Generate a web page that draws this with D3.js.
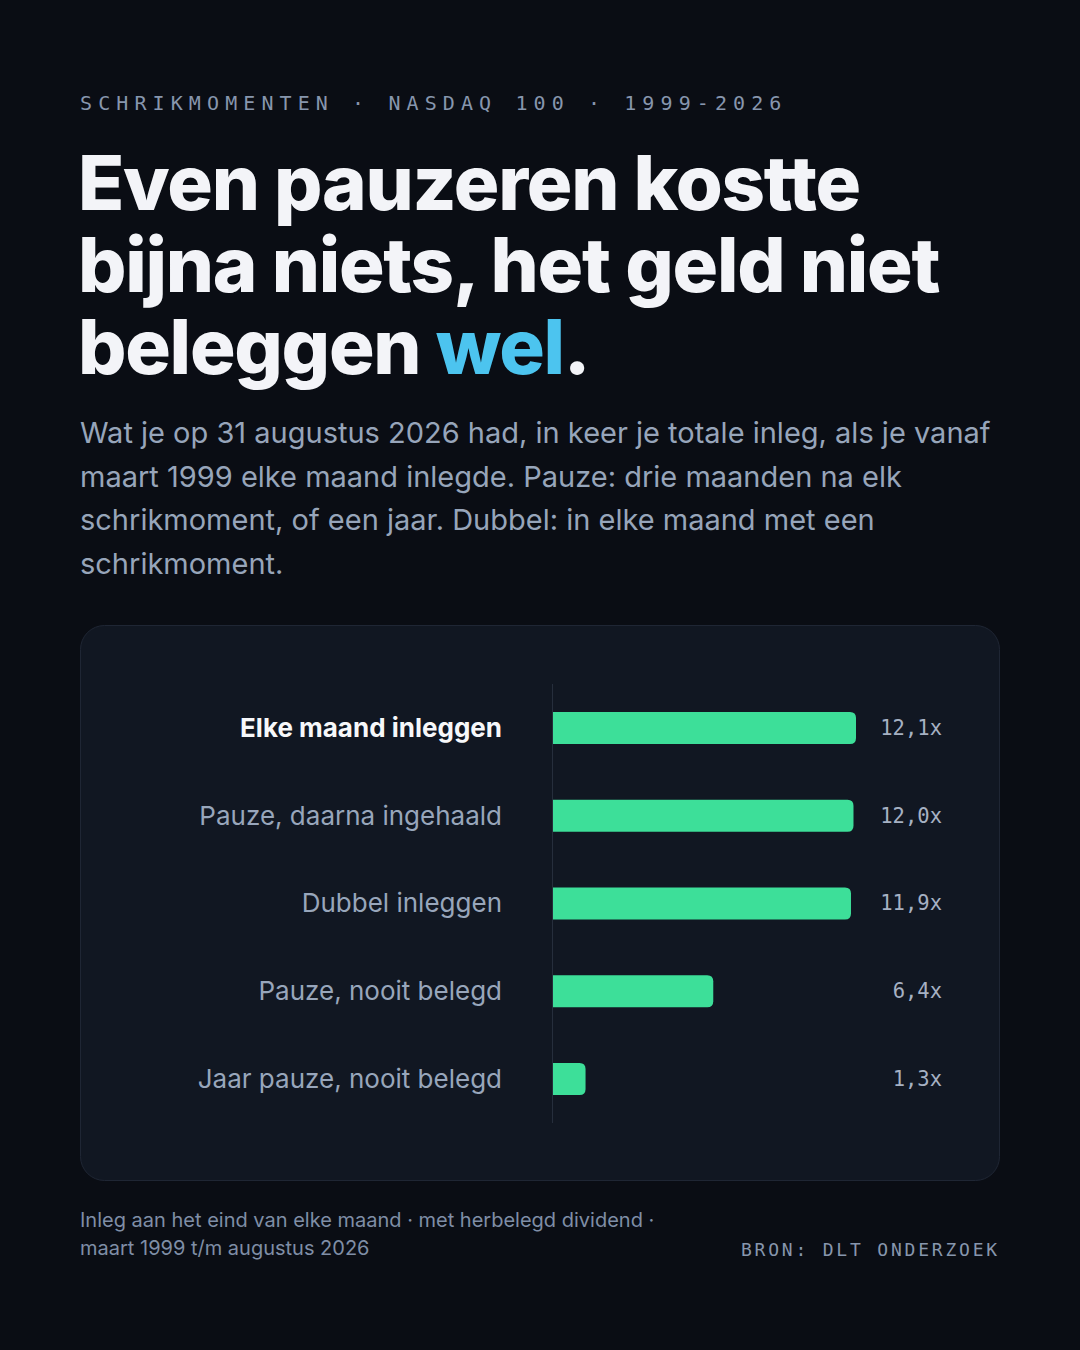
<!DOCTYPE html>
<html>
<head>
<meta charset="utf-8">
<script src="https://cdn.jsdelivr.net/npm/d3@7"></script>
<style>
	html, body { margin: 0; padding: 0; background: #0a0d14; }
	svg { display: block; }
</style>
</head>
<body>
<div id="chart"></div>
<script>
// Data
const categories = [
	"Elke maand inleggen",
	"Pauze, daarna ingehaald",
	"Dubbel inleggen",
	"Pauze, nooit belegd",
	"Jaar pauze, nooit belegd"
];
const multiples = [12.1, 12.0, 11.9, 6.4, 1.3];
const eyebrow = "SCHRIKMOMENTEN · NASDAQ 100 · 1999-2026";
const titleLines = ["Even pauzeren kostte", "bijna niets, het geld niet", "beleggen "];
const subtitleLines = [
	"Wat je op 31 augustus 2026 had, in keer je totale inleg, als je vanaf",
	"maart 1999 elke maand inlegde. Pauze: drie maanden na elk",
	"schrikmoment, of een jaar. Dubbel: in elke maand met een",
	"schrikmoment."
];
const footLines = [
	"Inleg aan het eind van elke maand · met herbelegd dividend ·",
	"maart 1999 t/m augustus 2026"
];
const source = "BRON: DLT ONDERZOEK";

const W = 1080, H = 1350;
const sans = "Inter, 'Noto Sans', sans-serif";
const mono = "'DejaVu Sans Mono', 'Liberation Mono', monospace";

const svg = d3.select("#chart").append("svg")
	.attr("width", W)
	.attr("height", H);

svg.append("rect").attr("width", W).attr("height", H).attr("fill", "#0a0d14");

// Header
svg.append("text")
	.attr("x", 80).attr("y", 110)
	.attr("font-family", mono)
	.attr("font-size", 20)
	.attr("letter-spacing", 6.1)
	.attr("fill", "#8796ad")
	.text(eyebrow);

const title = svg.append("text")
	.attr("font-family", sans)
	.attr("font-size", 76)
	.attr("font-weight", 800)
	.attr("letter-spacing", -1.25)
	.attr("fill", "#f3f4f8");
titleLines.forEach((line, i) => {
	title.append("tspan").attr("x", 78).attr("y", 210 + i * 82).text(line);
	if (i === titleLines.length - 1) {
		title.append("tspan").attr("fill", "#4cc4ef").text("wel");
		title.append("tspan").text(".");
	}
});

const sub = svg.append("text")
	.attr("font-family", sans)
	.attr("font-size", 29)
	.attr("fill", "#97a5ba");
subtitleLines.forEach((line, i) => {
	sub.append("tspan").attr("x", 80).attr("y", 443 + i * 43.6).text(line);
});

// Card
svg.append("rect")
	.attr("x", 80.5).attr("y", 625.5)
	.attr("width", 919).attr("height", 555)
	.attr("rx", 24)
	.attr("fill", "#111722")
	.attr("stroke", "#1f2634");

// Chart
const plotLeft = 553;
const x = d3.scaleLinear().domain([0, d3.max(multiples)]).range([0, 303]);
const y = d3.scaleBand().domain(categories).range([684, 1123])
	.paddingInner(0.636).paddingOuter(0.318);
const fmt = v => d3.format(".1f")(v).replace(".", ",") + "x";

const rows = categories.map((c, i) => ({ name: c, value: multiples[i], first: i === 0 }));

// bar with only the right corners rounded
function barPath(w, h, r) {
	r = Math.min(r, w, h / 2);
	return `M0,0H${w - r}Q${w},0 ${w},${r}V${h - r}Q${w},${h} ${w - r},${h}H0Z`;
}

const g = svg.append("g");

g.selectAll("path.bar")
	.data(rows)
	.join("path")
	.attr("class", "bar")
	.attr("transform", d => `translate(${plotLeft},${y(d.name)})`)
	.attr("d", d => barPath(x(d.value), y.bandwidth(), 6))
	.attr("fill", "#3ddf99");

g.append("line")
	.attr("x1", plotLeft - 0.5).attr("x2", plotLeft - 0.5)
	.attr("y1", y.range()[0]).attr("y2", y.range()[1])
	.attr("stroke", "#262e3c")
	.attr("stroke-width", 1);

g.selectAll("text.label")
	.data(rows)
	.join("text")
	.attr("class", "label")
	.attr("x", 502)
	.attr("y", d => y(d.name) + y.bandwidth() / 2)
	.attr("dy", "0.34em")
	.attr("text-anchor", "end")
	.attr("font-family", sans)
	.attr("font-size", 26)
	.attr("font-weight", d => d.first ? 700 : 400)
	.attr("fill", d => d.first ? "#f7f8fa" : "#98a6bb")
	.text(d => d.name);

g.selectAll("text.value")
	.data(rows)
	.join("text")
	.attr("class", "value")
	.attr("x", 942)
	.attr("y", d => y(d.name) + y.bandwidth() / 2)
	.attr("dy", "0.34em")
	.attr("text-anchor", "end")
	.attr("font-family", mono)
	.attr("font-size", 20.5)
	.attr("fill", "#a6b1c3")
	.text(d => fmt(d.value));

// Footer
const foot = svg.append("text")
	.attr("font-family", sans)
	.attr("font-size", 20)
	.attr("fill", "#7f8ea6");
footLines.forEach((line, i) => {
	foot.append("tspan").attr("x", 80).attr("y", 1227 + i * 28).text(line);
});

svg.append("text")
	.attr("x", 1000).attr("y", 1256)
	.attr("text-anchor", "end")
	.attr("font-family", mono)
	.attr("font-size", 18)
	.attr("letter-spacing", 2.8)
	.attr("fill", "#8796ad")
	.text(source);
</script>
</body>
</html>
